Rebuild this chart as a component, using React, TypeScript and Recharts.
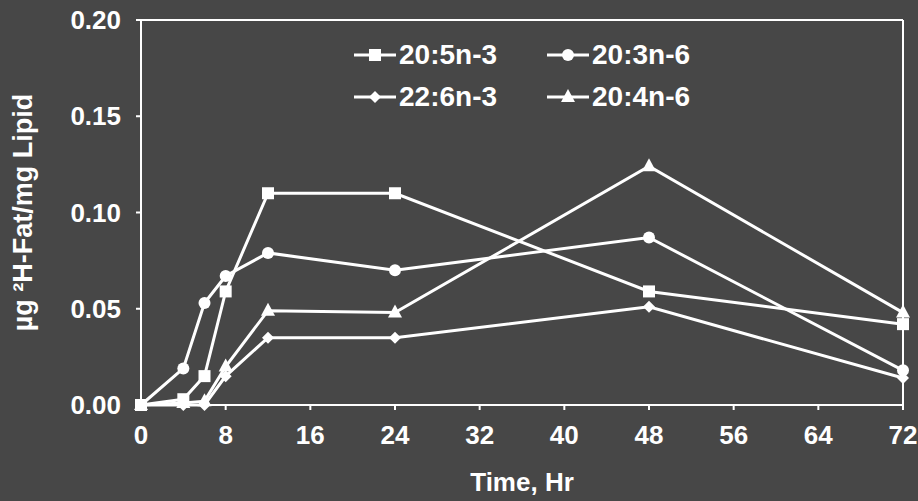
import { LineChart, Line, XAxis, YAxis, ReferenceLine } from 'recharts'

const hours = [0, 4, 6, 8, 12, 24, 48, 72]
const xTicks = [0, 8, 16, 24, 32, 40, 48, 56, 64, 72]
const yTicks = [0, 0.05, 0.1, 0.15, 0.2]

// ug 2H-fat per mg lipid
const epa = [0, 0.003, 0.015, 0.059, 0.11, 0.11, 0.059, 0.042] // 20:5n-3
const dgla = [0, 0.019, 0.053, 0.067, 0.079, 0.07, 0.087, 0.018] // 20:3n-6
const dha = [0, 0, 0, 0.015, 0.035, 0.035, 0.051, 0.014] // 22:6n-3
const aa = [0, 0.001, 0.002, 0.02, 0.049, 0.048, 0.124, 0.048] // 20:4n-6

const data = hours.map((h, i) => ({
  t: h,
  epa: epa[i],
  dgla: dgla[i],
  dha: dha[i],
  aa: aa[i],
}))

const FG = '#ffffff'
const BG = '#474747'
const FONT = '"Liberation Sans", Arial, sans-serif'

type Shape = 'square' | 'circle' | 'diamond' | 'triangle'

const series: { key: string; name: string; shape: Shape }[] = [
  { key: 'epa', name: '20:5n-3', shape: 'square' },
  { key: 'dgla', name: '20:3n-6', shape: 'circle' },
  { key: 'dha', name: '22:6n-3', shape: 'diamond' },
  { key: 'aa', name: '20:4n-6', shape: 'triangle' },
]

function Marker({ shape, cx, cy }: { shape: Shape; cx: number; cy: number }) {
  if (shape === 'square') return <rect x={cx - 6} y={cy - 6} width={12} height={12} fill={FG} />
  if (shape === 'circle') return <circle cx={cx} cy={cy} r={6} fill={FG} />
  if (shape === 'diamond')
    return <polygon points={`${cx},${cy - 6} ${cx + 6},${cy} ${cx},${cy + 6} ${cx - 6},${cy}`} fill={FG} />
  return <polygon points={`${cx},${cy - 8} ${cx + 7},${cy + 5} ${cx - 7},${cy + 5}`} fill={FG} />
}

const makeDot = (shape: Shape) => (props: any) => {
  const { cx, cy, index } = props
  return <Marker key={`${shape}-${index}`} shape={shape} cx={cx} cy={cy} />
}

// legend sits inside the plot, two columns
function LegendBox() {
  const cols = [
    [series[0], series[2]],
    [series[1], series[3]],
  ]
  return (
    <div style={{ position: 'absolute', left: 354, top: 40, display: 'flex', gap: 50 }}>
      {cols.map((col, ci) => (
        <div key={ci} style={{ display: 'flex', flexDirection: 'column', gap: 12 }}>
          {col.map((s) => (
            <div key={s.key} style={{ display: 'flex', alignItems: 'center', height: 30 }}>
              <svg width={42} height={30}>
                <line x1={0} y1={15} x2={42} y2={15} stroke={FG} strokeWidth={3} />
                <Marker shape={s.shape} cx={21} cy={15} />
              </svg>
              <span style={{ color: FG, fontWeight: 700, fontSize: 28, marginLeft: 3, fontFamily: FONT }}>
                {s.name}
              </span>
            </div>
          ))}
        </div>
      ))}
    </div>
  )
}

export default function App() {
  return (
    <div style={{ position: 'absolute', left: 0, top: 0, width: 918, height: 501, background: BG }}>
      <LineChart width={918} height={501} data={data} margin={{ top: 20, right: 15, left: 0, bottom: 0 }}>
        <XAxis
          dataKey="t"
          type="number"
          domain={[0, 72]}
          ticks={xTicks}
          height={96}
          stroke={FG}
          strokeWidth={2}
          tickSize={5}
          tickMargin={16}
          tick={{ fill: FG, fontSize: 26, fontWeight: 700, fontFamily: FONT }}
          label={{
            value: 'Time, Hr',
            position: 'insideBottom',
            offset: 10,
            fill: FG,
            fontSize: 26,
            fontWeight: 700,
            fontFamily: FONT,
          }}
        />
        <YAxis
          domain={[0, 0.2]}
          ticks={yTicks}
          width={141}
          stroke={FG}
          strokeWidth={2}
          tickSize={5}
          tickMargin={15}
          tickFormatter={(v: number) => v.toFixed(2)}
          tick={{ fill: FG, fontSize: 26, fontWeight: 700, fontFamily: FONT }}
          label={{
            value: 'µg ²H-Fat/mg Lipid',
            angle: -90,
            position: 'insideLeft',
            offset: 22,
            style: { textAnchor: 'middle' },
            fill: FG,
            fontSize: 27,
            fontWeight: 700,
            fontFamily: FONT,
          }}
        />
        <ReferenceLine y={0.2} stroke={FG} strokeWidth={2} />
        <ReferenceLine x={72} stroke={FG} strokeWidth={2} />
        {series.map((s) => (
          <Line
            key={s.key}
            dataKey={s.key}
            name={s.name}
            stroke={FG}
            strokeWidth={3}
            dot={makeDot(s.shape)}
            activeDot={false}
            isAnimationActive={false}
          />
        ))}
      </LineChart>
      <LegendBox />
    </div>
  )
}
